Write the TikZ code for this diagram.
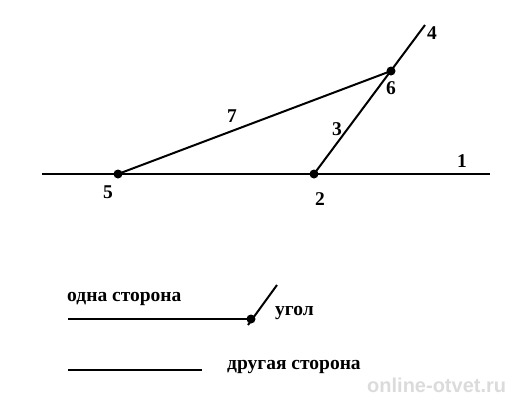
\documentclass[tikz,border=0pt]{standalone}
\usepackage{fontspec}
\setmainfont{Liberation Serif}
\newfontfamily\wmfont{Liberation Sans}
\begin{document}
\begin{tikzpicture}[x=1pt,y=-1pt,
  ln/.style={line width=2pt},
  dotpt/.style={circle,fill=black,inner sep=0pt,minimum size=9pt},
  lbl/.style={font=\bfseries\fontsize{19.5}{19.5}\selectfont,inner sep=0pt},
  wm/.style={font=\wmfont\bfseries\fontsize{20}{20}\selectfont,inner sep=0pt}]
\path[use as bounding box] (0,0) rectangle (512,400);
\coordinate (L) at (42,174);
\coordinate (R) at (490,174);
\node[dotpt] (p5) at (118,174) {};
\node[dotpt] (p2) at (314,174) {};
\node[dotpt] (p6) at (391,71) {};
\coordinate (e4) at (425,25);
\draw[ln] (L) -- (R);
\draw[ln] (p2.center) -- (e4);
\draw[ln] (p5.center) -- (p6.center);
\node[lbl] (t1) at (462,161) {1};
\node[lbl] (t2) at (320,199) {2};
\node[lbl] (t3) at (337,129) {3};
\node[lbl] (t4) at (432,33) {4};
\node[lbl] (t5) at (108,192) {5};
\node[lbl] (t6) at (391,88) {6};
\node[lbl] (t7) at (232,116) {7};
% legend
\coordinate (a1) at (68,319);
\node[dotpt] (av) at (251,319) {};
\coordinate (a2) at (248,325);
\coordinate (a3) at (277,285);
\draw[ln] (a1) -- (av.center);
\draw[ln] (a2) -- (a3);
\node[lbl,anchor=west] (ts1) at (67,299) {одна сторона};
\node[lbl,anchor=west] (tug) at (275,313) {угол};
\coordinate (b1) at (68,370);
\coordinate (b2) at (202,370);
\draw[ln] (b1) -- (b2);
\node[lbl,anchor=west] (ts2) at (227,367) {другая сторона};
\node[wm,anchor=west,text=black!14] (wmk) at (367,385) {online-otvet.ru};
\end{tikzpicture}
\end{document}
